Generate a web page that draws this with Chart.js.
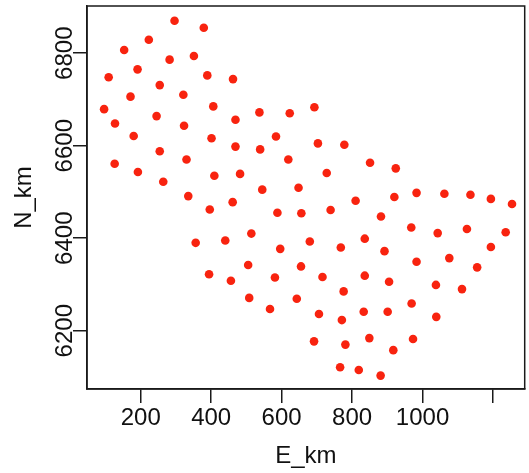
<!DOCTYPE html>
<html>
<head>
<meta charset="utf-8">
<script src="https://cdn.jsdelivr.net/npm/chart.js@4.4.1/dist/chart.umd.min.js"></script>
<style>
  html, body { margin: 0; padding: 0; background: #fff; }
  #wrap { width: 529px; height: 473px; }
</style>
</head>
<body>
<div id="wrap"><canvas id="scatterChart"></canvas></div>
<script>
// sample locations (km)
const eastKm = [
  296, 379, 223, 153, 282, 351, 191, 109, 389, 462,
  254, 321, 171, 96, 406, 245, 127, 323, 469, 537,
  623, 180, 401, 469, 539, 584, 254, 619, 330, 126,
  192, 409, 482, 264, 545, 648, 335, 461, 693, 703,
  778, 851, 924, 728, 810, 920, 983, 1062, 1136, 1194,
  1254, 396, 588, 656, 356, 440, 514, 596, 655, 505,
  394, 456, 581, 508, 567, 643, 739, 882, 968, 1043,
  1126, 1236, 680, 768, 836, 892, 1194, 716, 836, 905,
  983, 1076, 1155, 1038, 1112, 776, 706, 771, 833, 901,
  969, 1039, 692, 781, 849, 917, 973, 766, 819, 881
];
const northKm = [
  6870, 6855, 6829, 6807, 6786, 6794, 6765, 6748, 6752, 6744,
  6731, 6710, 6706, 6679, 6685, 6664, 6648, 6643, 6656, 6672,
  6670, 6621, 6616, 6598, 6592, 6620, 6588, 6570, 6570, 6561,
  6543, 6535, 6539, 6522, 6505, 6509, 6491, 6478, 6683, 6605,
  6602, 6563, 6551, 6541, 6481, 6489, 6498, 6496, 6494, 6485,
  6474, 6462, 6455, 6454, 6390, 6395, 6410, 6377, 6339, 6342,
  6322, 6308, 6315, 6271, 6247, 6269, 6461, 6447, 6423, 6411,
  6420, 6413, 6393, 6380, 6399, 6372, 6381, 6316, 6319, 6306,
  6349, 6357, 6337, 6299, 6290, 6285, 6236, 6223, 6241, 6241,
  6259, 6230, 6177, 6170, 6184, 6158, 6182, 6121, 6115, 6103
];

const xTicks = [200, 400, 600, 800, 1000, 1200];
const xTickLabels = ['200', '400', '600', '800', '1000', ''];
const yTicks = [6200, 6400, 6600, 6800];
const yTickLabels = ['6200', '6400', '6600', '6800'];

const points = eastKm.map((e, i) => ({ x: e, y: northKm[i] }));

const axisColor = '#1a1a1a';
const fontFamily = '"Liberation Sans", Arial, sans-serif';

// box round the plot region
const boxPlugin = {
  id: 'box',
  afterDraw(chart) {
    const a = chart.chartArea;
    const ctx = chart.ctx;
    ctx.save();
    ctx.strokeStyle = axisColor;
    ctx.lineWidth = 1.5;
    ctx.strokeRect(a.left, a.top, a.right - a.left, a.bottom - a.top);
    ctx.restore();
  }
};

new Chart(document.getElementById('scatterChart').getContext('2d'), {
  type: 'scatter',
  data: {
    datasets: [{
      data: points,
      backgroundColor: '#f8230f',
      borderWidth: 0,
      pointRadius: 4.3,
      pointHoverRadius: 4.3
    }]
  },
  options: {
    responsive: true,
    maintainAspectRatio: false,
    animation: false,
    layout: { padding: { top: 6, right: 2, left: 0, bottom: 0 } },
    plugins: { legend: { display: false }, tooltip: { enabled: false } },
    scales: {
      x: {
        type: 'linear',
        min: 47.5,
        max: 1290,
        afterBuildTicks(scale) { scale.ticks = xTicks.map(v => ({ value: v })); },
        afterFit(scale) { scale.height = 84; },
        grid: { display: true, drawOnChartArea: false, drawTicks: true, tickLength: 14, color: axisColor, lineWidth: 1.5 },
        border: { display: true, color: axisColor, width: 1.5 },
        ticks: {
          padding: 0.5,
          color: '#111',
          font: { family: fontFamily, size: 24 },
          maxRotation: 0,
          autoSkip: false,
          callback: (v) => xTickLabels[xTicks.indexOf(v)]
        },
        title: {
          display: true,
          text: 'E_km',
          color: '#111',
          font: { family: fontFamily, size: 24 },
          padding: { top: 0, bottom: 2.6 }
        }
      },
      y: {
        type: 'linear',
        min: 6074,
        max: 6902,
        afterBuildTicks(scale) { scale.ticks = yTicks.map(v => ({ value: v })); },
        afterFit(scale) { scale.width = 87; },
        grid: { display: true, drawOnChartArea: false, drawTicks: true, tickLength: 14, color: axisColor, lineWidth: 1.5 },
        border: { display: true, color: axisColor, width: 1.5 },
        ticks: {
          padding: -18.7,
          minRotation: 90,
          maxRotation: 90,
          crossAlign: 'center',
          color: '#111',
          font: { family: fontFamily, size: 24 },
          autoSkip: false,
          callback: (v) => yTickLabels[yTicks.indexOf(v)]
        },
        title: {
          display: true,
          text: 'N_km',
          color: '#111',
          font: { family: fontFamily, size: 24 },
          padding: { top: 10, bottom: 0 }
        }
      }
    }
  },
  plugins: [boxPlugin]
});
</script>
</body>
</html>
